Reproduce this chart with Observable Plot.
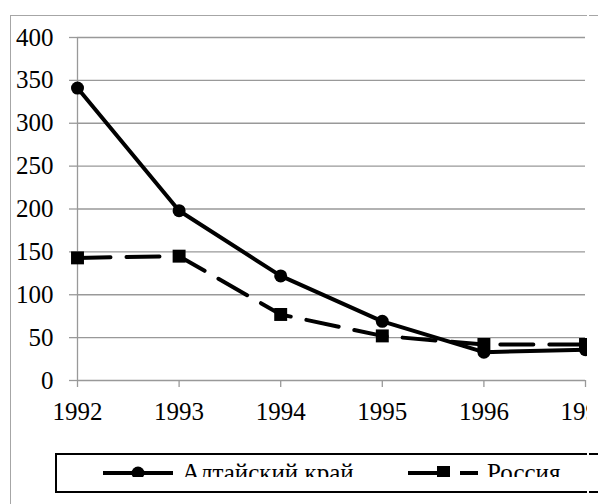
<!DOCTYPE html>
<html>
<head>
<meta charset="utf-8">
<script src="https://cdn.jsdelivr.net/npm/d3@7"></script>
<script src="https://cdn.jsdelivr.net/npm/@observablehq/plot@0.6"></script>
<style>
  html, body { margin: 0; padding: 0; background: #fff; overflow: hidden; }
  #clip { position: absolute; left: 0; top: 0; width: 587px; height: 504px; overflow: hidden; }
  #frame { position: absolute; left: 10px; top: 15px; width: 700px; height: 600px; border: 1px solid #a6a6a6; box-sizing: border-box; }
  #plot { position: absolute; left: 0; top: 0; width: 640px; }
  #plot svg { max-width: none !important; }
  #legbox { position: absolute; left: 55px; top: 453px; width: 700px; height: 40px; border: 2px solid #000; box-sizing: border-box; }
  #legclip { position: absolute; left: 57px; top: 455px; width: 700px; height: 22px; overflow: hidden; font-family: "Liberation Serif", "Times New Roman", serif; font-size: 25px; }
  .lt { position: absolute; top: 5px; line-height: 25px; white-space: nowrap; }
  .seg { position: absolute; left: 589px; width: 9px; }
</style>
</head>
<body>
<div id="clip">
  <div id="frame"></div>
  <div id="plot"></div>
  <div id="legbox"></div>
  <div id="legclip"></div>
</div>
<div class="seg" style="top:15px;height:1px;background:#a6a6a6"></div>
<div class="seg" style="top:453px;height:2px;background:#000"></div>
<div class="seg" style="top:491px;height:2px;background:#000"></div>
<script>
const years = [1992, 1993, 1994, 1995, 1996, 1997];
const altai = [341, 198, 122, 69, 33, 36];
const russia = [143, 145, 77, 52, 42, 42];
const yTicks = [0, 50, 100, 150, 200, 250, 300, 350, 400];
const seriesNames = ["Алтайский край", "Россия"];

const dataA = years.map((y, i) => ({year: y, value: altai[i]}));
const dataR = years.map((y, i) => ({year: y, value: russia[i]}));

const grid = "#999";
const chart = Plot.plot({
  width: 640,
  height: 440,
  marginLeft: 77,
  marginRight: 55,
  marginTop: 37,
  marginBottom: 60,
  style: {fontFamily: "'Liberation Serif', 'Times New Roman', serif", fontSize: "25px", color: "#000", background: "transparent", overflow: "visible", maxWidth: "none"},
  x: {domain: [1992, 1997], ticks: years, tickFormat: d => String(d)},
  y: {domain: [0, 400], ticks: yTicks},
  marks: [
    Plot.gridY(yTicks.filter(d => d > 0), {stroke: grid, strokeOpacity: 1, strokeWidth: 1.3}),
    Plot.axisY({ticks: yTicks, tickSize: 8, tickPadding: 16, stroke: grid, strokeWidth: 1.3, label: null}),
    Plot.axisX({ticks: years, tickSize: 7, tickPadding: 15, stroke: grid, strokeWidth: 1.3, label: null, tickFormat: d => String(d)}),
    Plot.ruleY([0], {stroke: grid, strokeWidth: 1.3}),
    Plot.ruleX([1992], {y1: 0, y2: 400, stroke: grid, strokeWidth: 1.3}),
    Plot.line(dataR, {x: "year", y: "value", stroke: "#000", strokeWidth: 4, strokeDasharray: "33,16"}),
    Plot.dot(dataR, {x: "year", y: "value", symbol: "square", r: 7.3, fill: "#000", stroke: "none"}),
    Plot.line(dataA, {x: "year", y: "value", stroke: "#000", strokeWidth: 4}),
    Plot.dot(dataA, {x: "year", y: "value", r: 6.5, fill: "#000", stroke: "none"})
  ]
});
document.getElementById("plot").appendChild(chart);

// Legend (clipped like the reference)
const leg = document.getElementById("legclip");
leg.innerHTML = `
<svg style="position:absolute;left:0;top:0" width="700" height="40">
  <line x1="46" x2="116" y1="18" y2="18" stroke="#000" stroke-width="4"/>
  <circle cx="81" cy="18" r="6.5" fill="#000"/>
  <line x1="351" x2="385" y1="18" y2="18" stroke="#000" stroke-width="4"/>
  <rect x="380" y="11" width="13" height="13" fill="#000"/>
  <line x1="403" x2="421" y1="18" y2="18" stroke="#000" stroke-width="4"/>
</svg>
<span class="lt" style="left:125px">${seriesNames[0]}</span>
<span class="lt" style="left:430px">${seriesNames[1]}</span>`;
</script>
</body>
</html>
